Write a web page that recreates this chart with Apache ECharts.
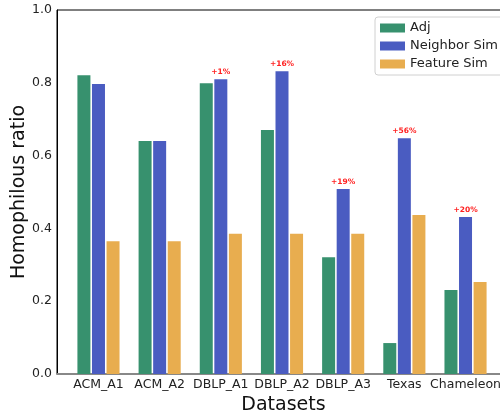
<!DOCTYPE html>
<html>
<head>
<meta charset="utf-8">
<script src="https://cdn.jsdelivr.net/npm/echarts@6/dist/echarts.min.js"></script>
<style>html,body{margin:0;padding:0;background:#fff;}#c{width:500px;height:411px;}</style>
</head>
<body>
<div id="c"></div>
<script>
const categories = ['ACM_A1', 'ACM_A2', 'DBLP_A1', 'DBLP_A2', 'DBLP_A3', 'Texas', 'Chameleon'];
const adj = [0.821, 0.640, 0.799, 0.670, 0.321, 0.085, 0.231];
const neighborSim = [0.797, 0.640, 0.810, 0.832, 0.508, 0.648, 0.431];
const featureSim = [0.365, 0.365, 0.385, 0.385, 0.385, 0.437, 0.253];
const gains = ['', '', '+1%', '+16%', '+19%', '+56%', '+20%'];
const yTicks = [0, 0.2, 0.4, 0.6, 0.8, 1.0];

const font = 'DejaVu Sans';
const toPts = arr => arr.map((v, i) => [i, v]);

const chart = echarts.init(document.getElementById('c'), null, {renderer: 'canvas'});
chart.setOption({
  animation: false,
  backgroundColor: '#fff',
  textStyle: {fontFamily: font},
  grid: {left: 57, top: 10, bottom: 37, right: -10, show: true, borderColor: '#000', borderWidth: 1,
         containLabel: false, outerBoundsMode: 'none'},
  legend: {
    left: 375, top: 17, orient: 'vertical',
    itemWidth: 25, itemHeight: 9, itemGap: 4,
    padding: [4, 8, 4, 5],
    borderColor: '#d0d0d0', borderWidth: 1, borderRadius: 3,
    textStyle: {fontFamily: font, fontSize: 13, color: '#222', lineHeight: 14},
    icon: 'rect',
    data: ['Adj', 'Neighbor Sim', 'Feature Sim']
  },
  xAxis: {
    type: 'value', min: -0.678, max: 6.727,
    name: 'Datasets', nameLocation: 'middle', nameGap: 22,
    nameTextStyle: {fontFamily: font, fontSize: 19, color: '#111'},
    axisLine: {show: true, onZero: false, lineStyle: {color: '#888', width: 2}},
    axisTick: {show: false},
    splitLine: {show: false},
    axisLabel: {
      customValues: categories.map((c, i) => i),
      formatter: v => categories[Math.round(v)] || '',
      fontFamily: font, fontSize: 12.5, color: '#222', margin: 4
    }
  },
  yAxis: {
    type: 'value', min: 0, max: 1, interval: 0.2,
    name: 'Homophilous ratio', nameLocation: 'middle', nameGap: 28, nameMoveOverlap: false,
    nameTextStyle: {fontFamily: font, fontSize: 19, color: '#111'},
    axisLine: {show: true, onZero: false, lineStyle: {color: '#000', width: 1}},
    axisTick: {show: false},
    splitLine: {show: false},
    axisLabel: {
      customValues: yTicks,
      formatter: v => v.toFixed(1),
      fontFamily: font, fontSize: 12.5, color: '#222', margin: 5
    }
  },
  series: [
    {name: 'Adj', type: 'bar', data: toPts(adj), barWidth: 13, barGap: '12%',
     itemStyle: {color: '#37916e'}},
    {name: 'Neighbor Sim', type: 'bar', data: toPts(neighborSim), barWidth: 13, barGap: '12%',
     itemStyle: {color: '#4a5cc1'},
     label: {show: true, position: 'top', distance: 3,
       formatter: p => gains[p.dataIndex],
       color: '#ff2020', fontWeight: 'bold', fontSize: 7.5, fontFamily: font}},
    {name: 'Feature Sim', type: 'bar', data: toPts(featureSim), barWidth: 13, barGap: '12%',
     itemStyle: {color: '#e8ad4f'}}
  ]
});
</script>
</body>
</html>
